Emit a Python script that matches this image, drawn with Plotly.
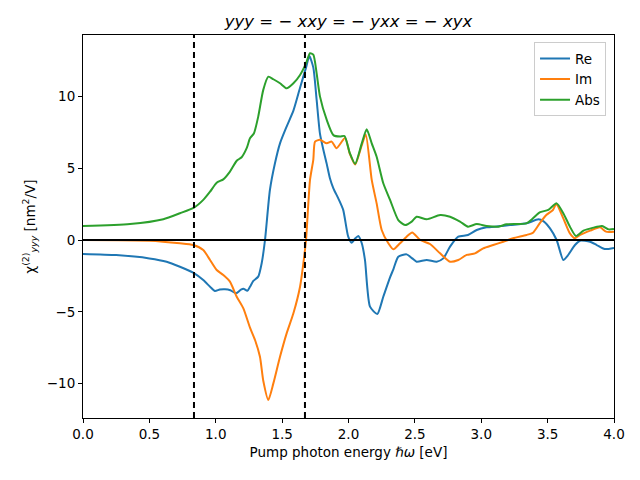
import plotly.graph_objects as go

# ---- data ----
re_x = [0.0, 0.25, 0.5, 0.63, 0.73, 0.83, 0.906, 0.957, 0.994, 1.03, 1.07, 1.11, 1.153, 1.19, 1.208,
        1.238, 1.258, 1.283, 1.32, 1.346, 1.371, 1.408, 1.446, 1.484, 1.534, 1.585, 1.635, 1.68, 1.705,
        1.735, 1.76, 1.785, 1.81, 1.836, 1.86, 1.886, 1.923, 1.96, 1.998, 2.024, 2.05, 2.074, 2.1, 2.124,
        2.162, 2.217, 2.262, 2.313, 2.338, 2.375, 2.438, 2.48, 2.513, 2.589, 2.664, 2.714, 2.765, 2.827,
        2.9, 2.966, 3.04, 3.13, 3.217, 3.342, 3.43, 3.47, 3.518, 3.568, 3.618, 3.65, 3.706, 3.744, 3.819,
        3.87, 3.93, 4.0]
re_y = [-0.97, -1.05, -1.28, -1.51, -1.86, -2.27, -2.79, -3.25, -3.55, -3.45, -3.43, -3.5, -3.71, -3.45, -3.39,
        -3.53, -3.25, -2.85, -2.55, -1.62, 0.0, 3.48, 5.34, 6.73, 7.9, 9.0, 10.6, 12.0, 12.8,
        12.0, 9.75, 7.4, 6.3, 5.3, 4.3, 3.6, 2.9, 2.1, 0.23, -0.19, 0.1, 0.28, -0.23, -1.39,
        -4.64, -5.15, -3.95, -2.6, -2.04, -1.16, -1.0, -1.28, -1.51, -1.39, -1.51, -1.28, -0.46, 0.23,
        0.35, 0.7, 0.88, 0.95, 1.04, 1.16, 1.44, 1.3, 0.81, 0.0, -1.39, -1.1, -0.35, -0.05, -0.12,
        -0.35, -0.63, -0.55]

im_x = [0.0, 0.5, 0.73, 0.83, 0.906, 0.957, 1.007, 1.057, 1.107, 1.158, 1.208, 1.258, 1.296, 1.333, 1.358,
        1.396, 1.434, 1.484, 1.534, 1.585, 1.635, 1.66, 1.68, 1.71, 1.735, 1.748, 1.785, 1.836, 1.873,
        1.91, 1.974, 2.01, 2.05, 2.1, 2.13, 2.175, 2.212, 2.25, 2.3, 2.338, 2.388, 2.438, 2.48, 2.54,
        2.614, 2.69, 2.765, 2.827, 2.89, 2.953, 3.015, 3.09, 3.166, 3.24, 3.34, 3.39, 3.44, 3.49, 3.54,
        3.565, 3.618, 3.668, 3.706, 3.744, 3.82, 3.895, 3.94, 4.0]
im_y = [0.0, -0.05, -0.23, -0.35, -0.7, -1.39, -2.09, -2.44, -2.9, -3.95, -4.76, -6.1, -6.96, -8.13, -9.8,
        -11.14, -9.98, -8.13, -6.5, -5.1, -3.25, -1.62, 0.0, 4.18, 5.6, 6.85, 6.97, 6.73, 6.85,
        6.39, 7.1, 6.0, 5.25, 6.6, 7.35, 4.18, 2.55, 0.7, -0.23, -0.65, -0.23, 0.23, 0.53, 0.0,
        -0.28, -0.93, -1.51, -1.39, -1.04, -0.93, -0.58, -0.35, -0.12, 0.12, 0.35, 0.51, 1.16, 1.74, 2.09,
        2.5, 1.51, 0.46, 0.12, 0.35, 0.65, 0.88, 0.58, 0.58]

abs_x = [0.0, 0.354, 0.605, 0.73, 0.836, 0.906, 0.957, 1.007, 1.057, 1.107, 1.158, 1.195, 1.233, 1.258,
         1.288, 1.32, 1.358, 1.396, 1.434, 1.484, 1.534, 1.585, 1.635, 1.68, 1.71, 1.735, 1.76, 1.785,
         1.836, 1.886, 1.936, 1.97, 2.01, 2.05, 2.1, 2.137, 2.175, 2.212, 2.262, 2.313, 2.375, 2.426,
         2.476, 2.513, 2.589, 2.69, 2.765, 2.84, 2.9, 2.966, 3.04, 3.13, 3.19, 3.34, 3.39, 3.44, 3.505,
         3.568, 3.618, 3.668, 3.713, 3.77, 3.845, 3.91, 3.96, 4.0]
abs_y = [0.97, 1.11, 1.45, 1.86, 2.25, 2.79, 3.36, 3.99, 4.22, 4.76, 5.52, 5.76, 6.39, 7.08,
         7.43, 8.59, 10.45, 11.37, 11.19, 10.91, 10.56, 10.91, 11.49, 12.3, 13.0, 12.9, 11.6, 10.0,
         8.36, 7.3, 7.2, 7.24, 6.04, 5.3, 6.73, 7.71, 6.73, 5.8, 3.95, 2.79, 1.39, 1.04,
         1.28, 1.62, 1.44, 1.74, 1.62, 1.28, 0.93, 1.11, 0.98, 0.93, 1.09, 1.16, 1.51, 1.93, 2.09,
         2.55, 1.86, 0.93, 0.28, 0.65, 0.86, 0.98, 0.74, 0.77]

series_names = ["Re", "Im", "Abs"]
series_colors = ["#1f77b4", "#ff7f0e", "#2ca02c"]
vlines = [0.836, 1.672]
hline = 0.0
x_ticks = [0.0, 0.5, 1.0, 1.5, 2.0, 2.5, 3.0, 3.5, 4.0]
x_tick_text = ["0.0", "0.5", "1.0", "1.5", "2.0", "2.5", "3.0", "3.5", "4.0"]
y_ticks = [-10, -5, 0, 5, 10]
y_tick_text = ["\u221210", "\u22125", "0", "5", "10"]

FONT = "DejaVu Sans"

fig = go.Figure()
for xs, ys, name, col in zip([re_x, im_x, abs_x], [re_y, im_y, abs_y], series_names, series_colors):
    fig.add_trace(go.Scatter(x=xs, y=ys, mode="lines", name=name,
                             line=dict(color=col, width=2, shape="spline", smoothing=0.6)))

fig.add_hline(y=hline, line=dict(color="black", width=2))
for v in vlines:
    fig.add_vline(x=v, line=dict(color="black", width=2, dash="6px,4px"))

# the page body adds an 8px offset, so the figure is sized 632x472
fig.update_layout(
    width=632, height=472,
    margin=dict(l=75, r=26, t=27, b=62, autoexpand=False),
    paper_bgcolor="white", plot_bgcolor="white",
    font=dict(family=FONT, size=13.5, color="black"),
    title=dict(text="<i>yyy</i> = \u2212 <i>xxy</i> = \u2212 <i>yxx</i> = \u2212 <i>xyx</i>",
               xref="paper", x=0.5, xanchor="center", y=0.972, yanchor="middle",
               font=dict(family=FONT, size=16.5, color="black")),
    showlegend=True,
    legend=dict(x=0.985, y=0.981, xanchor="right", yanchor="top",
                bgcolor="rgba(255,255,255,0.8)", bordercolor="#cccccc", borderwidth=1,
                font=dict(family=FONT, size=13.5), itemwidth=30, tracegroupgap=0),
    xaxis=dict(range=[0, 4], tickvals=x_ticks, ticktext=x_tick_text, automargin=False,
               showgrid=False, zeroline=False, showline=True, linecolor="black", linewidth=1,
               mirror=True, ticks="outside", ticklen=4, tickwidth=1, tickcolor="black",
               title=dict(text="Pump photon energy <i>\u210f\u03c9</i> [eV]", standoff=6,
                          font=dict(family=FONT, size=13.5))),
    yaxis=dict(range=[-12.39, 14.27], tickvals=y_ticks, ticktext=y_tick_text, automargin=False,
               showgrid=False, zeroline=False, showline=True, linecolor="black", linewidth=1,
               mirror=True, ticks="outside", ticklen=4, tickwidth=1, tickcolor="black",
               title=dict(text="\u03c7<sup>(2)</sup><sub><i>yyy</i></sub> [nm<sup>2</sup>/V]", standoff=8,
                          font=dict(family=FONT, size=13.5))),
)

fig.write_html("out.html")
